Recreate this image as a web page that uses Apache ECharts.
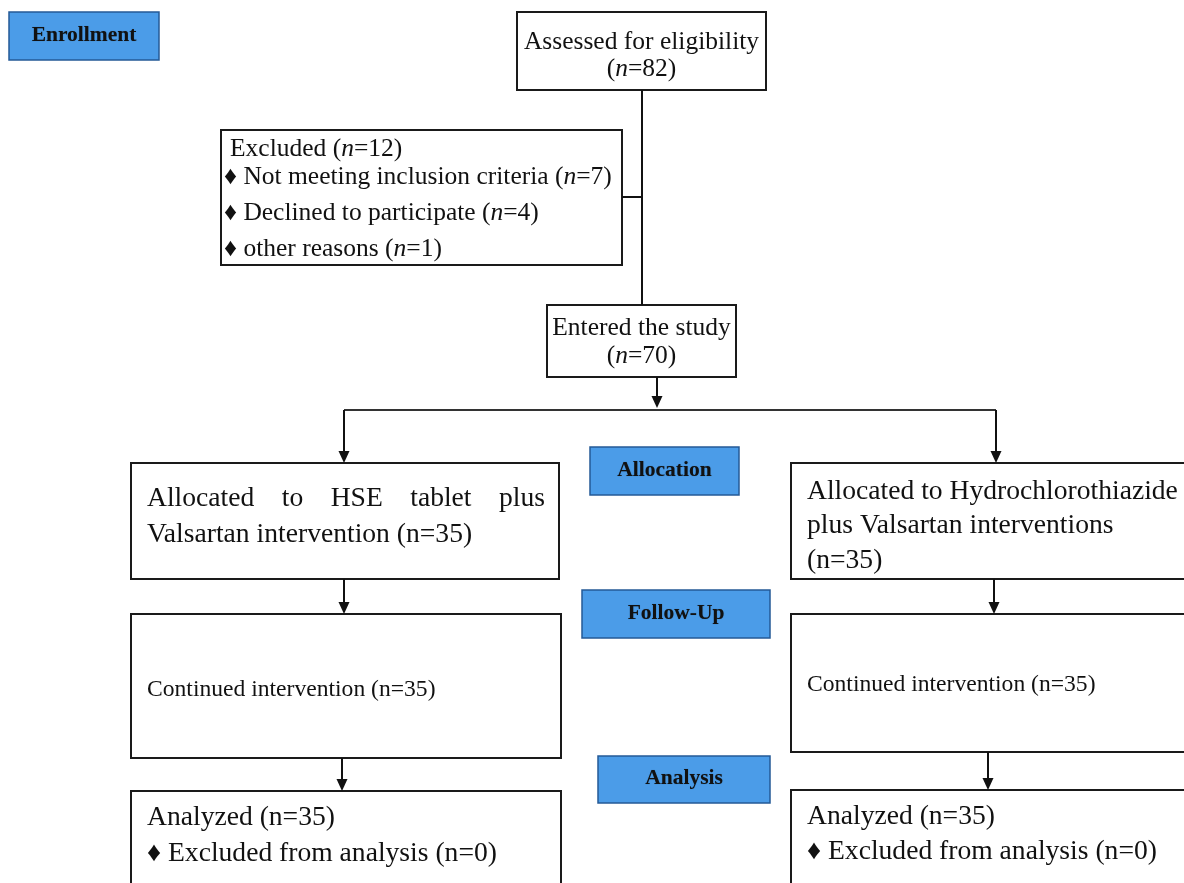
<!DOCTYPE html>
<html><head><meta charset="utf-8">
<script src="https://cdn.jsdelivr.net/npm/echarts@6/dist/echarts.min.js"></script>
<style>html,body{margin:0;padding:0;background:#fff}#main{width:1184px;height:883px}</style>
</head><body><div id="main"></div>
<script>
// ---- data (text and counts) ----
const stageLabels = ['Enrollment', 'Allocation', 'Follow-Up', 'Analysis'];
const assessedCount = [82];
const excludedTotal = [12];
const excludedReasons = ['Not meeting inclusion criteria', 'Declined to participate', 'other reasons'];
const excludedCounts = [7, 4, 1];
const enteredCount = [70];
const armAllocatedLines = [
  ['Allocated to HSE tablet plus', 'Valsartan intervention'],
  ['Allocated to Hydrochlorothiazide', 'plus Valsartan interventions']
];
const armAllocated = [35, 35];
const armContinued = [35, 35];
const armAnalyzed = [35, 35];
const armExcludedAnalysis = [0, 0];

// ---- layout (positions / sizes, separate from data) ----
const SERIF = "'Liberation Serif','Times New Roman',serif";
const stageBoxes = [[9, 12, 150, 48], [590, 447, 149, 48], [582, 590, 188, 48], [598, 756, 172, 47]];
const L = {
  assessed: [517, 12, 249, 78],
  excluded: [221, 130, 401, 135],
  entered: [547, 305, 189, 72],
  alloc: [[131, 463, 428, 116], [791, 463, 420, 116]],
  cont: [[131, 614, 430, 144], [791, 614, 420, 138]],
  anal: [[131, 791, 430, 120], [791, 790, 420, 120]]
};
const FS = { top: 25.5, excl: 25.5, arm: 27.6, cont: 23.6, stage: 21.5 };
const DY = 2;

const els = [];
const ctx = document.createElement('canvas').getContext('2d');
function measure(t, size) { ctx.font = size + 'px ' + SERIF; return ctx.measureText(t).width; }

function box(b, opt) {
  els.push({ type: 'rect', shape: { x: b[0], y: b[1], width: b[2], height: b[3] },
    style: Object.assign({ fill: '#fff', stroke: '#1a1a1a', lineWidth: 2 }, opt || {}), z: 1 });
}
function richStyle(size) {
  return { i: { fontStyle: 'italic', fontSize: size, fontFamily: SERIF, fill: '#111' },
           r: { fontSize: size, fontFamily: SERIF, fill: '#111' } };
}
function text(t, x, y, size, align, extra, noShift) {
  els.push({ type: 'text', z: 5, style: Object.assign({ text: t, x: x, y: y + (noShift ? 0 : DY), fontSize: size, fontFamily: SERIF,
    fill: '#111', align: align || 'left', verticalAlign: 'middle', rich: richStyle(size) }, extra || {}) });
}
function justified(line, x0, x1, y, size) {
  const words = line.split(' ');
  const ws = words.map(w => measure(w, size));
  const total = ws.reduce((a, b) => a + b, 0);
  const gap = (x1 - x0 - total) / (words.length - 1);
  let x = x0;
  words.forEach((w, k) => { text(w, x, y, size, 'left'); x += ws[k] + gap; });
}
function line(x1, y1, x2, y2, c) {
  els.push({ type: 'line', z: 3, shape: { x1, y1, x2, y2 }, style: { stroke: c || '#111', lineWidth: 2 } });
}
function arrow(x, y1, y2) {
  line(x, y1, x, y2 - 10);
  els.push({ type: 'polygon', z: 3, shape: { points: [[x - 5.5, y2 - 12], [x + 5.5, y2 - 12], [x, y2]] }, style: { fill: '#111' } });
}

// stage labels
stageLabels.forEach((s, k) => {
  const b = stageBoxes[k];
  box(b, { fill: '#4b9ce8', stroke: '#245a96', lineWidth: 1.5 });
  text(s, b[0] + b[2] / 2, b[1] + b[3] / 2 - 1, FS.stage, 'center', { fontWeight: 'bold', textShadowColor: 'rgba(0,0,0,0.3)', textShadowBlur: 1 }, true);
});

// enrollment flow
const a = L.assessed;
box(a);
text('Assessed for eligibility', a[0] + a[2] / 2, 40, FS.top, 'center');
text('({i|n}{r|=' + assessedCount[0] + ')}', a[0] + a[2] / 2, 67, FS.top, 'center');

line(642, 90, 642, 305);
line(622, 197, 642, 197);

const e = L.excluded;
box(e);
text('Excluded ({i|n}{r|=' + excludedTotal[0] + ')}', 230, 147, FS.excl, 'left');
const reasonY = [175, 211, 247];
excludedReasons.forEach((r, k) => {
  text('\u2666 ' + r + ' ({i|n}{r|=' + excludedCounts[k] + ')}', 224, reasonY[k], FS.excl, 'left');
});

const en = L.entered;
box(en);
text('Entered the study', en[0] + en[2] / 2, 326, FS.top, 'center');
text('({i|n}{r|=' + enteredCount[0] + ')}', en[0] + en[2] / 2, 354, FS.top, 'center');
arrow(657, 377, 408);
line(344, 410, 996, 410, '#333');
arrow(344, 410, 463);
arrow(996, 410, 463);

// arms
const armX = [[344, 344, 342], [994, 994, 988]];
[0, 1].forEach(k => {
  const al = L.alloc[k], co = L.cont[k], an = L.anal[k];
  box(al); box(co); box(an);
  const tx = al[0] + 16;
  if (k === 0) {
    justified(armAllocatedLines[0][0], tx, 545, 497, FS.arm);
    text(armAllocatedLines[0][1] + ' (n=' + armAllocated[0] + ')', tx, 533, FS.arm);
  } else {
    text(armAllocatedLines[1][0], tx, 490, FS.arm);
    text(armAllocatedLines[1][1], tx, 524, FS.arm);
    text('(n=' + armAllocated[1] + ')', tx, 559, FS.arm);
  }
  arrow(armX[k][1], al[1] + al[3], co[1]);
  text('Continued intervention (n=' + armContinued[k] + ')', tx, k === 0 ? 688 : 683, FS.cont);
  arrow(armX[k][2], co[1] + co[3], an[1]);
  text('Analyzed (n=' + armAnalyzed[k] + ')', tx, k === 0 ? 816 : 815, FS.arm);
  text('\u2666 Excluded from analysis (n=' + armExcludedAnalysis[k] + ')', tx, k === 0 ? 852 : 850, FS.arm);
});

const chart = echarts.init(document.getElementById('main'), null, { renderer: 'canvas' });
chart.setOption({ backgroundColor: '#fff', animation: false, graphic: { elements: els } });
</script></body></html>
